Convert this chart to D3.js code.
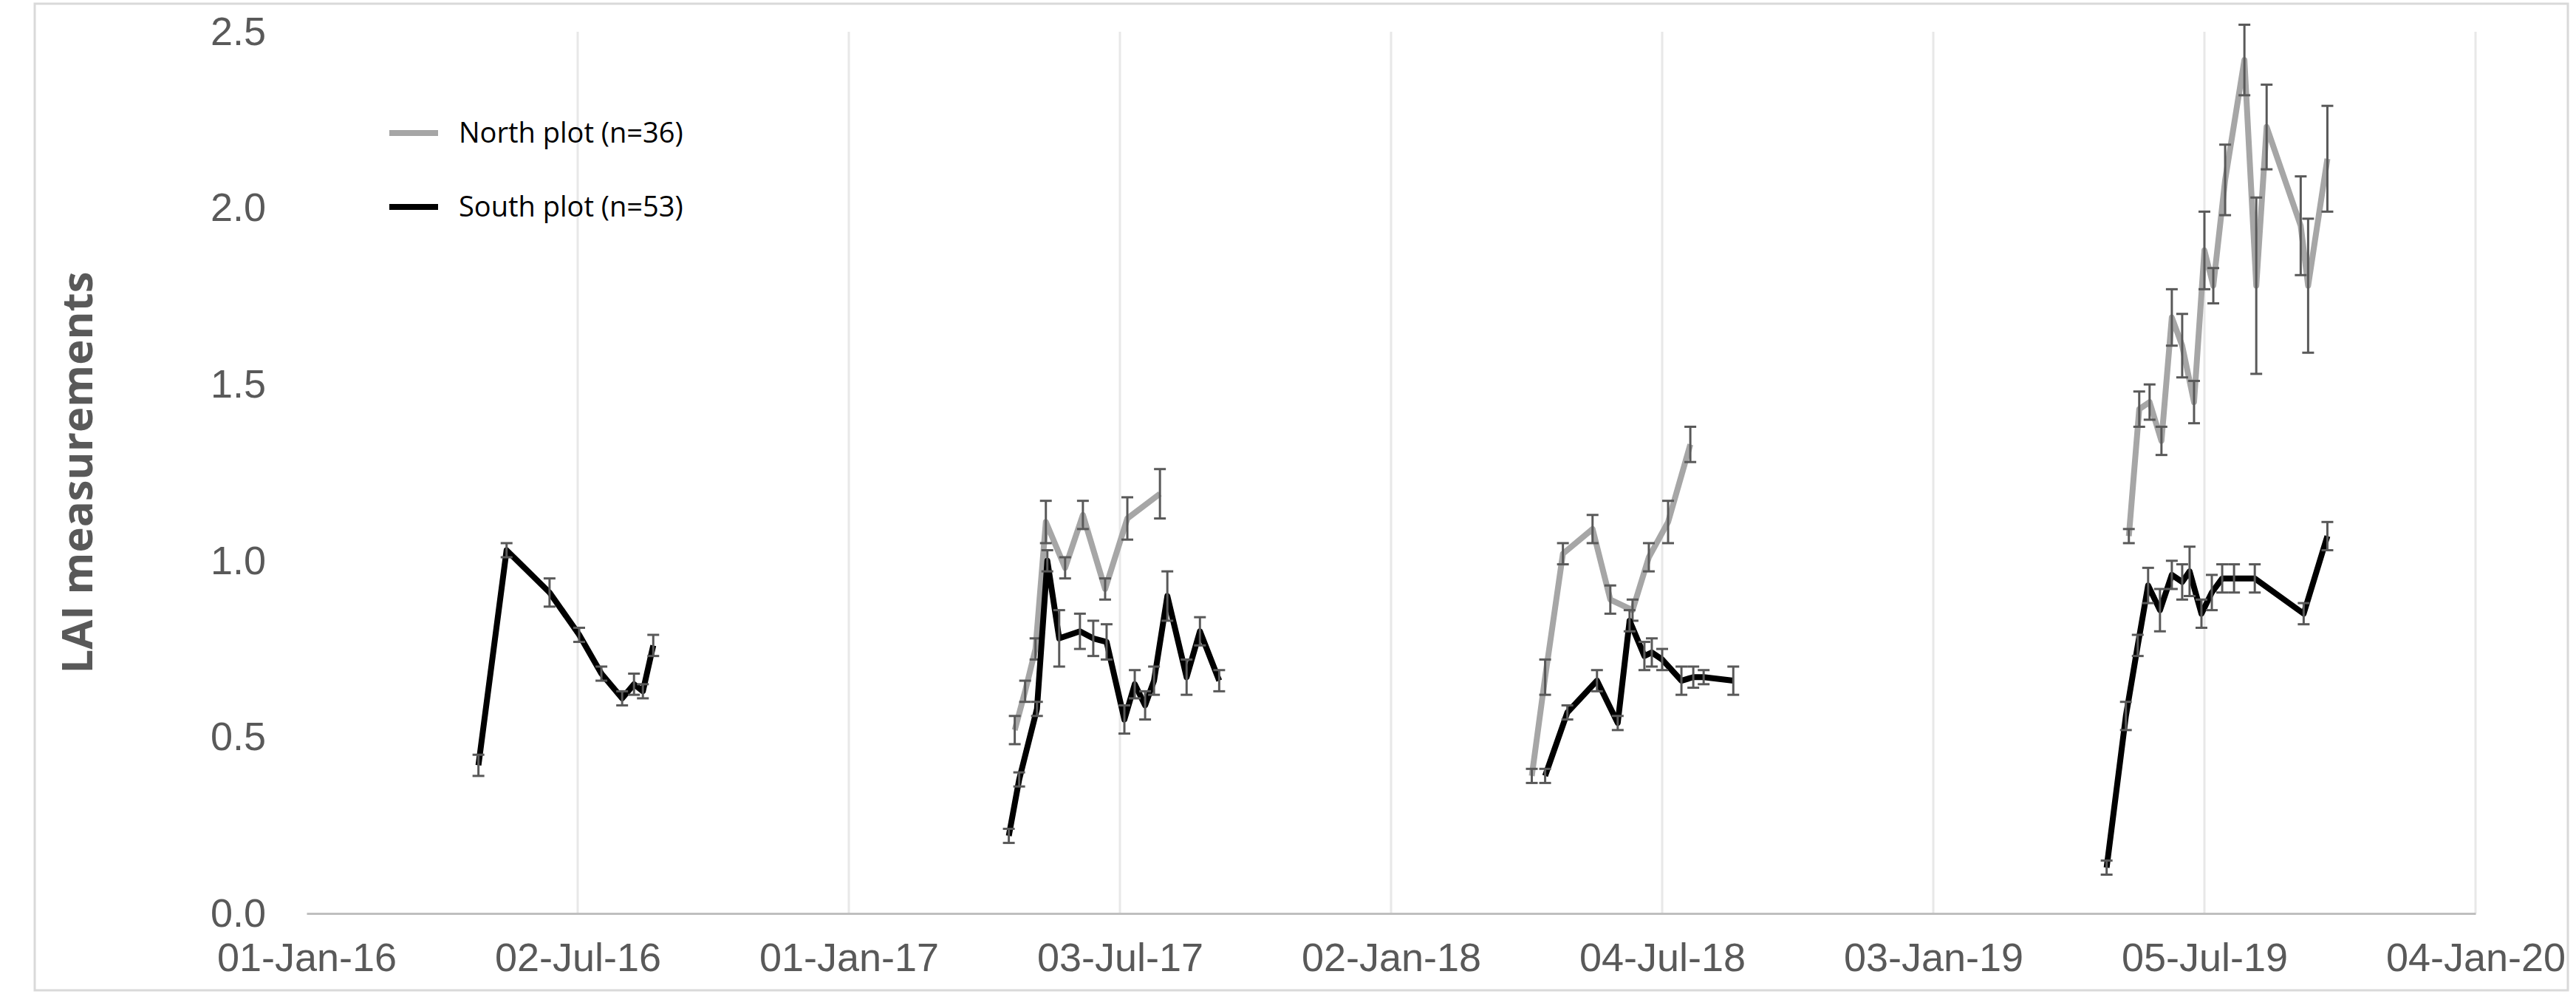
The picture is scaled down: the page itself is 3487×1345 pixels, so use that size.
<!DOCTYPE html>
<html>
<head>
<meta charset="utf-8">
<script src="https://cdn.jsdelivr.net/npm/d3@7"></script>
<style>
  body { margin: 0; background: #fff; }
  svg { display: block; }
</style>
</head>
<body>
<div id="chart"></div>
<script>
const northDates = [
  "2017-04-23", "2017-04-30", "2017-05-07", "2017-05-14", "2017-05-27", "2017-06-08", "2017-06-23", "2017-07-08", "2017-07-30",
  "2018-04-07", "2018-04-16", "2018-04-28", "2018-05-18", "2018-05-30", "2018-06-14", "2018-06-25", "2018-07-08", "2018-07-23",
  "2019-05-15", "2019-05-22", "2019-05-29", "2019-06-06", "2019-06-13", "2019-06-20", "2019-06-28", "2019-07-05",
  "2019-07-11", "2019-07-19", "2019-08-01", "2019-08-09", "2019-08-16", "2019-09-08", "2019-09-13", "2019-09-26",
];
const northValues = [
  0.52, 0.63, 0.75, 1.11, 0.98, 1.13, 0.92, 1.12, 1.19,
  0.39, 0.67, 1.02, 1.09, 0.89, 0.86, 1.01, 1.11, 1.33,
  1.07, 1.43, 1.45, 1.34, 1.69, 1.61, 1.45, 1.88,
  1.78, 2.08, 2.42, 1.78, 2.23, 1.95, 1.78, 2.14,
];
const northErrors = [
  0.04, 0.03, 0.03, 0.06, 0.03, 0.04, 0.03, 0.06, 0.07,
  0.02, 0.05, 0.03, 0.04, 0.04, 0.03, 0.04, 0.06, 0.05,
  0.02, 0.05, 0.05, 0.04, 0.08, 0.09, 0.06, 0.11,
  0.05, 0.10, 0.10, 0.25, 0.12, 0.14, 0.19, 0.15,
];

const southDates = [
  "2016-04-26", "2016-05-15", "2016-06-13", "2016-07-03", "2016-07-18", "2016-08-01", "2016-08-09", "2016-08-15", "2016-08-22",
  "2017-04-19", "2017-04-26", "2017-05-08", "2017-05-15", "2017-05-23", "2017-06-06", "2017-06-15", "2017-06-24",
  "2017-07-06", "2017-07-13", "2017-07-20", "2017-07-26", "2017-08-04", "2017-08-17", "2017-08-26", "2017-09-08",
  "2018-04-16", "2018-05-01", "2018-05-21", "2018-06-04", "2018-06-12", "2018-06-22", "2018-06-27", "2018-07-04",
  "2018-07-17", "2018-07-25", "2018-08-01", "2018-08-21",
  "2019-04-30", "2019-05-13", "2019-05-21", "2019-05-28", "2019-06-05", "2019-06-13", "2019-06-20", "2019-06-25",
  "2019-07-03", "2019-07-10", "2019-07-17", "2019-07-25", "2019-08-08", "2019-09-10", "2019-09-26",
];
const southValues = [
  0.42, 1.03, 0.91, 0.79, 0.68, 0.61, 0.65, 0.63, 0.76,
  0.22, 0.38, 0.58, 1.00, 0.78, 0.80, 0.78, 0.77,
  0.55, 0.65, 0.59, 0.66, 0.90, 0.67, 0.80, 0.66,
  0.39, 0.57, 0.66, 0.54, 0.83, 0.73, 0.74, 0.72,
  0.66, 0.67, 0.67, 0.66,
  0.13, 0.56, 0.76, 0.93, 0.86, 0.96, 0.94, 0.97,
  0.85, 0.91, 0.95, 0.95, 0.95, 0.85, 1.07,
];
const southErrors = [
  0.03, 0.02, 0.04, 0.02, 0.02, 0.02, 0.03, 0.02, 0.03,
  0.02, 0.02, 0.02, 0.03, 0.08, 0.05, 0.05, 0.05,
  0.04, 0.04, 0.04, 0.04, 0.07, 0.05, 0.04, 0.03,
  0.02, 0.02, 0.03, 0.02, 0.03, 0.04, 0.04, 0.03,
  0.04, 0.03, 0.02, 0.04,
  0.02, 0.04, 0.03, 0.05, 0.06, 0.04, 0.05, 0.07,
  0.04, 0.05, 0.04, 0.04, 0.04, 0.03, 0.04,
];

const xTickLabels = ["01-Jan-16", "02-Jul-16", "01-Jan-17", "03-Jul-17", "02-Jan-18", "04-Jul-18", "03-Jan-19", "05-Jul-19", "04-Jan-20"];
const yTicks = [0, 0.5, 1.0, 1.5, 2.0, 2.5];
const seriesNames = ["North plot (n=36)", "South plot (n=53)"];

const width = 3487;
const height = 1345;
const margin = { top: 43, right: 136, bottom: 109, left: 415 };

const parseDate = d3.timeParse("%Y-%m-%d");
const parseTick = d3.timeParse("%d-%b-%y");
const tickDates = xTickLabels.map(parseTick);

const x = d3.scaleTime()
    .domain([tickDates[0], tickDates[tickDates.length - 1]])
    .range([margin.left, width - margin.right]);

const y = d3.scaleLinear()
    .domain([0, 2.5])
    .range([height - margin.bottom, margin.top]);

const svg = d3.select("#chart")
    .append("svg")
    .attr("width", width)
    .attr("height", height)
    .attr("font-family", "'Open Sans', 'Liberation Sans', sans-serif");

// chart border
svg.append("rect")
    .attr("x", 47).attr("y", 5)
    .attr("width", width - 58).attr("height", height - 10)
    .attr("fill", "none")
    .attr("stroke", "#d9d9d9")
    .attr("stroke-width", 3);

// vertical gridlines
svg.append("g")
    .selectAll("line")
    .data(tickDates.slice(1))
    .join("line")
    .attr("x1", (d) => x(d)).attr("x2", (d) => x(d))
    .attr("y1", y(0)).attr("y2", y(2.5))
    .attr("stroke", "#e8e8e8")
    .attr("stroke-width", 3);

// x axis
const xAxis = svg.append("g")
    .attr("transform", `translate(0,${y(0)})`)
    .call(d3.axisBottom(x).tickValues(tickDates).tickFormat((d, i) => xTickLabels[i]).tickSize(0).tickPadding(40));
xAxis.select(".domain").attr("stroke", "#bfbfbf").attr("stroke-width", 3);
xAxis.selectAll("text").attr("font-size", 54).attr("fill", "#595959");

// y axis
const yAxis = svg.append("g")
    .attr("transform", `translate(${margin.left},0)`)
    .call(d3.axisLeft(y).tickValues(yTicks).tickFormat(d3.format(".1f")).tickSize(0).tickPadding(55));
yAxis.select(".domain").remove();
yAxis.selectAll("text").attr("font-size", 54).attr("fill", "#595959");

svg.append("text")
    .attr("transform", `translate(125,${(y(0) + y(2.5)) / 2}) rotate(-90)`)
    .attr("text-anchor", "middle")
    .attr("font-size", 58)
    .attr("font-weight", "bold")
    .attr("fill", "#595959")
    .text("LAI measurements");

const buildSeries = (dates, values, errors) =>
    dates.map((d, i) => ({ date: parseDate(d), value: values[i], err: errors[i] }));

// split into seasons wherever there is a long gap between measurements
const splitSeasons = (points) => {
    const seasons = [];
    points.forEach((p, i) => {
        if (i === 0 || p.date - points[i - 1].date > 100 * 864e5) seasons.push([]);
        seasons[seasons.length - 1].push(p);
    });
    return seasons;
};

const north = buildSeries(northDates, northValues, northErrors);
const south = buildSeries(southDates, southValues, southErrors);

const line = d3.line()
    .x((d) => x(d.date))
    .y((d) => y(d.value));

const drawSeries = (points, color) => {
    const g = svg.append("g");

    g.selectAll("path")
        .data(splitSeasons(points))
        .join("path")
        .attr("d", line)
        .attr("fill", "none")
        .attr("stroke", color)
        .attr("stroke-width", 8)
        .attr("stroke-linejoin", "round");

    const bars = g.selectAll("g.err")
        .data(points)
        .join("g")
        .attr("class", "err")
        .attr("stroke", "#595959")
        .attr("stroke-width", 3);

    bars.append("line")
        .attr("x1", (d) => x(d.date)).attr("x2", (d) => x(d.date))
        .attr("y1", (d) => y(d.value - d.err)).attr("y2", (d) => y(d.value + d.err));

    [-1, 1].forEach((s) => {
        bars.append("line")
            .attr("x1", (d) => x(d.date) - 8).attr("x2", (d) => x(d.date) + 8)
            .attr("y1", (d) => y(d.value + s * d.err)).attr("y2", (d) => y(d.value + s * d.err));
    });
};

drawSeries(north, "#a6a6a6");
drawSeries(south, "#000000");

// legend
const legend = svg.append("g")
    .selectAll("g")
    .data(seriesNames)
    .join("g")
    .attr("transform", (d, i) => `translate(527,${180 + i * 100})`);

legend.append("line")
    .attr("x1", 0).attr("x2", 66)
    .attr("stroke", (d, i) => (i === 0 ? "#a6a6a6" : "#000000"))
    .attr("stroke-width", 8);

legend.append("text")
    .attr("x", 94)
    .attr("dy", "0.35em")
    .attr("font-size", 38)
    .attr("fill", "#000")
    .text((d) => d);
</script>
</body>
</html>
